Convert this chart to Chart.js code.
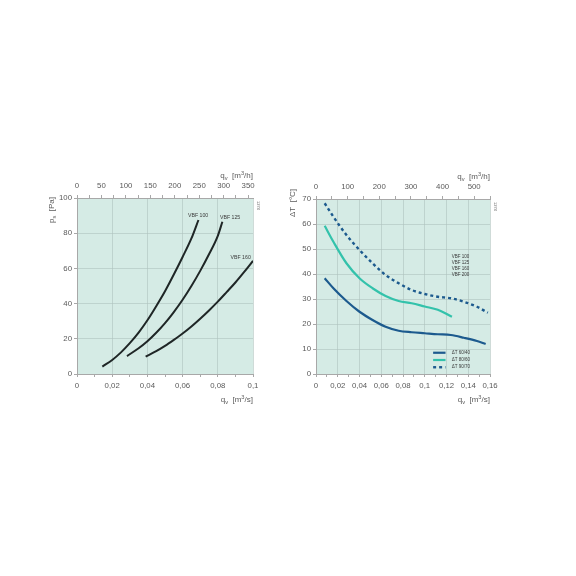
<!DOCTYPE html>
<html>
<head>
<meta charset="utf-8">
<script src="https://cdn.jsdelivr.net/npm/chart.js@4.4.1/dist/chart.umd.min.js"></script>
<style>
    html, body { margin: 0; padding: 0; background: #fff; }
    #wrap { position: relative; width: 576px; height: 576px; }
    #wrap canvas { position: absolute; left: 0; top: 0; }
</style>
</head>
<body>
<div id="wrap">
    <canvas id="pressureChart" width="576" height="576"></canvas>
    <canvas id="tempChart" width="576" height="576"></canvas>
</div>
<script>
// Left chart: pressure drop p_s [Pa] against air flow q_v [m3/s]
const vbf100Q = [0.0144, 0.02, 0.025, 0.03, 0.035, 0.04, 0.045, 0.05, 0.055, 0.06, 0.065, 0.069];
const vbf100P = [4.2, 8, 12.3, 17.5, 23.5, 30.5, 38.5, 47, 56.5, 66.5, 77, 87.5];
const vbf125Q = [0.0284, 0.035, 0.04, 0.045, 0.05, 0.055, 0.06, 0.065, 0.07, 0.075, 0.08, 0.0826];
const vbf125P = [10.2, 14.6, 18.6, 23.4, 28.9, 35.2, 42.2, 50, 58.6, 68, 78.5, 86.5];
const vbf160Q = [0.039, 0.045, 0.05, 0.055, 0.06, 0.065, 0.07, 0.075, 0.08, 0.085, 0.09, 0.095, 0.1];
const vbf160P = [9.9, 13, 16, 19.4, 23, 27, 31.4, 36.1, 41.1, 46.5, 52, 58, 64.3];
const pressureLabels = ['VBF 100', 'VBF 125', 'VBF 160'];

// Right chart: temperature rise dT [C] against air flow q_v [m3/s]
const dt6040Q = [0.008, 0.016, 0.028, 0.04, 0.052, 0.064, 0.076, 0.088, 0.1, 0.112, 0.124, 0.136, 0.148, 0.156];
const dt6040 = [38.3, 34.3, 29.2, 24.9, 21.6, 18.9, 17.3, 16.7, 16.3, 15.9, 15.6, 14.5, 13.2, 12.0];
const dt8060Q = [0.008, 0.016, 0.028, 0.04, 0.052, 0.064, 0.076, 0.088, 0.1, 0.112, 0.125];
const dt8060 = [59.3, 52.9, 44.3, 38.3, 34.3, 31.2, 29.2, 28.3, 27.0, 25.7, 22.9];
const dt9070Q = [0.008, 0.016, 0.028, 0.04, 0.052, 0.064, 0.076, 0.088, 0.1, 0.112, 0.124, 0.136, 0.148, 0.158];
const dt9070 = [68.3, 62.9, 55.6, 49.6, 44.3, 39.6, 36.3, 33.6, 32, 30.9, 30.3, 28.9, 26.9, 24.5];
const tempLabels = ['\u0394T 60/40', '\u0394T 80/60', '\u0394T 90/70'];
const unitLabels = ['VBF 100', 'VBF 125', 'VBF 160', 'VBF 200'];

const FONT = "'Liberation Sans', 'DejaVu Sans', sans-serif";
const TEXT_COLOR = '#5a5a5a';
const AXIS_COLOR = '#a8a8a8';
const GRID_COLOR = 'rgba(175,195,190,0.6)';
const PLOT_BG = '#d5ebe5';
const DARK_BLUE = '#1c5a8e';
const TEAL = '#33c2ab';
const CURVE = '#1f2626';

function toPoints(qs, vs) {
    return qs.map((q, i) => ({ x: q, y: vs[i] }));
}

function commaNum(v) {
    return String(parseFloat(v.toFixed(3))).replace('.', ',');
}

// Force an axis to a fixed thickness so the plot box lands where we want
function fixedSize(size) {
    return scale => {
        if (scale.isHorizontal()) scale.height = size;
        else scale.width = size;
    };
}

// Text with sub / superscript parts, e.g. q_v [m^3/s]
function drawRich(ctx, parts, x, y, size, align) {
    const small = size * 0.72;
    let w = 0;
    parts.forEach(([t, m]) => {
        ctx.font = `${m ? small : size}px ${FONT}`;
        w += ctx.measureText(t).width;
    });
    let cx = align === 'right' ? x - w : x;
    ctx.textAlign = 'left';
    ctx.textBaseline = 'middle';
    parts.forEach(([t, m]) => {
        ctx.font = `${m ? small : size}px ${FONT}`;
        const dy = m === 'sub' ? size * 0.32 : (m === 'sup' ? -size * 0.38 : 0);
        ctx.fillText(t, cx, y + dy);
        cx += ctx.measureText(t).width;
    });
}

function buildScales(cfg) {
    const tickFont = { family: FONT, size: 7.8 };
    return {
        x: {
            type: 'linear', position: 'bottom', min: 0, max: cfg.xMax,
            afterFit: fixedSize(30),
            border: { color: AXIS_COLOR },
            grid: {
                color: c => (c.index % 2 === 0 ? GRID_COLOR : 'transparent'),
                tickColor: AXIS_COLOR, tickLength: 3
            },
            ticks: {
                stepSize: 0.01, autoSkip: false, maxRotation: 0, padding: 4,
                color: TEXT_COLOR, font: tickFont,
                callback: (v, i) => (i % 2 === 0 ? commaNum(v) : '')
            }
        },
        xTop: {
            type: 'linear', position: 'top', min: 0, max: cfg.topMax,
            afterFit: fixedSize(28),
            border: { color: AXIS_COLOR },
            grid: { drawOnChartArea: false, tickColor: AXIS_COLOR, tickLength: 3 },
            ticks: {
                stepSize: cfg.topStep, includeBounds: false, autoSkip: false, maxRotation: 0, padding: 4,
                color: TEXT_COLOR, font: tickFont,
                callback: (v, i) => (i % 2 === 0 ? String(v) : '')
            }
        },
        y: {
            type: 'linear', position: 'left', min: 0, max: cfg.yMax,
            afterFit: fixedSize(30),
            border: { color: AXIS_COLOR },
            grid: { color: GRID_COLOR, tickColor: AXIS_COLOR, tickLength: 3 },
            ticks: {
                stepSize: cfg.yStep, autoSkip: false, padding: 2,
                color: TEXT_COLOR, font: tickFont
            }
        }
    };
}

// Plot background, axis titles, curve names and the small legend
function makeDecor(cfg) {
    return {
        id: 'decor',
        beforeDraw(chart) {
            const { ctx, chartArea: a } = chart;
            ctx.save();
            ctx.fillStyle = PLOT_BG;
            ctx.fillRect(a.left, a.top, a.right - a.left, a.bottom - a.top);
            ctx.restore();
        },
        afterDraw(chart) {
            const { ctx, chartArea: a, scales } = chart;
            ctx.save();
            ctx.fillStyle = TEXT_COLOR;
            drawRich(ctx, [['q'], ['v', 'sub'], ['  [m'], ['3', 'sup'], ['/s]']], a.right, a.bottom + 26, 8, 'right');
            drawRich(ctx, [['q'], ['v', 'sub'], ['  [m'], ['3', 'sup'], ['/h]']], a.right, a.top - 22, 8, 'right');

            ctx.save();
            ctx.translate(a.left - cfg.yTitleDx, a.top + cfg.yTitleDy);
            ctx.rotate(-Math.PI / 2);
            drawRich(ctx, cfg.yTitle, 0, 0, 8, 'left');
            ctx.restore();

            ctx.save();
            ctx.translate(a.right + 5, a.top + 3);
            ctx.rotate(Math.PI / 2);
            ctx.font = `4px ${FONT}`;
            ctx.textAlign = 'left';
            ctx.textBaseline = 'middle';
            ctx.fillText('1274', 0, 0);
            ctx.restore();

            ctx.fillStyle = '#3a3a3a';
            (cfg.notes || []).forEach(n => {
                ctx.font = `${n.size}px ${FONT}`;
                ctx.textAlign = n.align;
                ctx.textBaseline = 'middle';
                ctx.fillText(n.text, scales.x.getPixelForValue(n.x), scales.y.getPixelForValue(n.y));
            });

            if (cfg.legend) {
                const L = cfg.legend;
                chart.data.datasets.forEach((ds, i) => {
                    const y = scales.y.getPixelForValue(L.y[i]);
                    ctx.save();
                    ctx.strokeStyle = ds.borderColor;
                    ctx.lineWidth = ds.borderWidth;
                    ctx.setLineDash(ds.borderDash || []);
                    ctx.beginPath();
                    ctx.moveTo(scales.x.getPixelForValue(L.x0), y);
                    ctx.lineTo(scales.x.getPixelForValue(L.x1), y);
                    ctx.stroke();
                    ctx.restore();
                    ctx.fillStyle = '#3a3a3a';
                    ctx.font = `4.5px ${FONT}`;
                    ctx.textAlign = 'left';
                    ctx.textBaseline = 'middle';
                    ctx.fillText(ds.label, scales.x.getPixelForValue(L.xt), y);
                });
            }
            ctx.restore();
        }
    };
}

function curve(label, qs, vs, color, width, dash) {
    return {
        label: label,
        data: toPoints(qs, vs),
        borderColor: color,
        borderWidth: width,
        borderDash: dash || [],
        cubicInterpolationMode: 'monotone',
        pointRadius: 0,
        fill: false,
        xAxisID: 'x',
        yAxisID: 'y'
    };
}

function baseOptions(scales, pad) {
    return {
        responsive: false,
        animation: false,
        events: [],
        layout: { padding: pad },
        plugins: { legend: { display: false }, tooltip: { enabled: false } },
        scales: scales
    };
}

// plot box: left 77..253, top 198..374
new Chart(document.getElementById('pressureChart'), {
    type: 'line',
    data: {
        datasets: [
            curve(pressureLabels[0], vbf100Q, vbf100P, CURVE, 2),
            curve(pressureLabels[1], vbf125Q, vbf125P, CURVE, 2),
            curve(pressureLabels[2], vbf160Q, vbf160P, CURVE, 2)
        ]
    },
    options: baseOptions(
        buildScales({ xMax: 0.1, topMax: 360, topStep: 25, yMax: 100, yStep: 20 }),
        { left: 47, top: 170, right: 576 - 253, bottom: 576 - 374 - 30 }
    ),
    plugins: [makeDecor({
        yTitle: [['p'], ['s', 'sub'], ['  [Pa]']],
        yTitleDx: 25.5, yTitleDy: 25,
        notes: [
            { text: pressureLabels[0], x: 0.0688, y: 90, size: 5.2, align: 'center' },
            { text: pressureLabels[1], x: 0.087, y: 89, size: 5.2, align: 'center' },
            { text: pressureLabels[2], x: 0.093, y: 66.3, size: 5.2, align: 'center' }
        ]
    })]
});

// plot box: left 316..490, top 199..374
new Chart(document.getElementById('tempChart'), {
    type: 'line',
    data: {
        datasets: [
            curve(tempLabels[0], dt6040Q, dt6040, DARK_BLUE, 2.2),
            curve(tempLabels[1], dt8060Q, dt8060, TEAL, 2.2),
            curve(tempLabels[2], dt9070Q, dt9070, DARK_BLUE, 2.4, [3, 3])
        ]
    },
    options: baseOptions(
        buildScales({ xMax: 0.16, topMax: 550, topStep: 50, yMax: 70, yStep: 10 }),
        { left: 286, top: 171, right: 576 - 490, bottom: 576 - 374 - 30 }
    ),
    plugins: [makeDecor({
        yTitle: [['\u0394T  [\u00B0C]']],
        yTitleDx: 23.7, yTitleDy: 18,
        notes: unitLabels.map((t, i) => ({ text: t, x: 0.1248, y: 46.7 - i * 2.4, size: 4.5, align: 'left' })),
        legend: { x0: 0.1077, x1: 0.1191, xt: 0.1248, y: [8.5, 5.6, 2.7] }
    })]
});
</script>
</body>
</html>
